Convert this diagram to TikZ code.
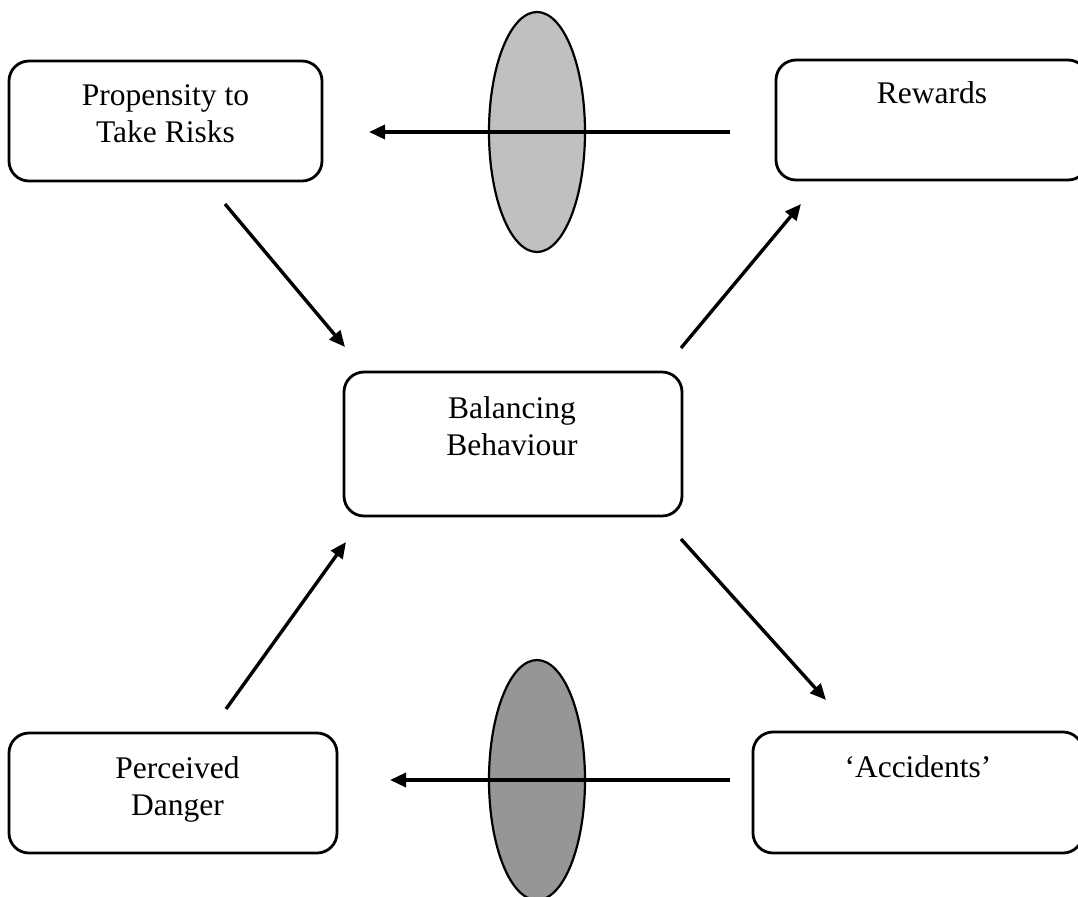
\documentclass[tikz,border=0pt]{standalone}
\usepackage{fontspec}
\setmainfont{Liberation Serif}
\usetikzlibrary{arrows.meta,shapes.geometric,calc}
\definecolor{lensA}{HTML}{C0C0C0}
\definecolor{lensB}{HTML}{969696}
\begin{document}
\begin{tikzpicture}[x=0.5pt,y=-0.5pt,
  box/.style={draw, line width=1.4pt, rounded corners=10pt, inner sep=0pt},
  lens/.style={draw, ellipse, line width=1.1pt, inner sep=0pt,
               minimum width=48pt, minimum height=120pt},
  txt/.style={inner sep=0pt, anchor=base, font=\fontsize{15.75}{18.5}\selectfont},
  link/.style={line width=1.7pt, -{Triangle[length=8pt,width=7pt]}}
]
\useasboundingbox (0,0) rectangle (1078,896);
\clip (0,0) rectangle (1078,896);

% filters between the outer boxes
\node[lens, fill=lensA] (lensTop) at (537,132) {};
\node[lens, fill=lensB] (lensBot) at (537,780) {};

% boxes
\node[box, minimum width=156.5pt, minimum height=60pt]   (prop) at (165.5,121) {};
\node[box, minimum width=156pt,   minimum height=60pt]   (rew)  at (932,120) {};
\node[box, minimum width=169pt,   minimum height=72pt]   (bal)  at (513,444) {};
\node[box, minimum width=164pt,   minimum height=60pt]   (dang) at (173,793) {};
\node[box, minimum width=165pt,   minimum height=60.5pt] (acc)  at (918,792.5) {};

% box texts
\node[txt] (propT) at (165.5,105) {\begin{tabular}[t]{c}Propensity to\\Take Risks\end{tabular}};
\node[txt] (rewT)  at (932,103)   {Rewards};
\node[txt] (balT)  at (512,418)   {\begin{tabular}[t]{c}Balancing\\Behaviour\end{tabular}};
\node[txt] (dangT) at (177.5,778) {\begin{tabular}[t]{c}Perceived\\Danger\end{tabular}};
\node[txt] (accT)  at (918,777)   {`Accidents'};

% connector end points
\coordinate (t1) at (730,132);  \coordinate (t2) at (369,132);
\coordinate (b1) at (730,780);  \coordinate (b2) at (390,780);
\coordinate (d1a) at (225,204); \coordinate (d1b) at (345,347);
\coordinate (d2a) at (681,348); \coordinate (d2b) at (801,204);
\coordinate (d3a) at (681,539); \coordinate (d3b) at (826,700);
\coordinate (d4a) at (226,709); \coordinate (d4b) at (346,542);

% connectors
\draw[link] (t1) -- (t2);
\draw[link] (b1) -- (b2);
\draw[link] (d1a) -- (d1b);
\draw[link] (d2a) -- (d2b);
\draw[link] (d3a) -- (d3b);
\draw[link] (d4a) -- (d4b);
\end{tikzpicture}
\end{document}
